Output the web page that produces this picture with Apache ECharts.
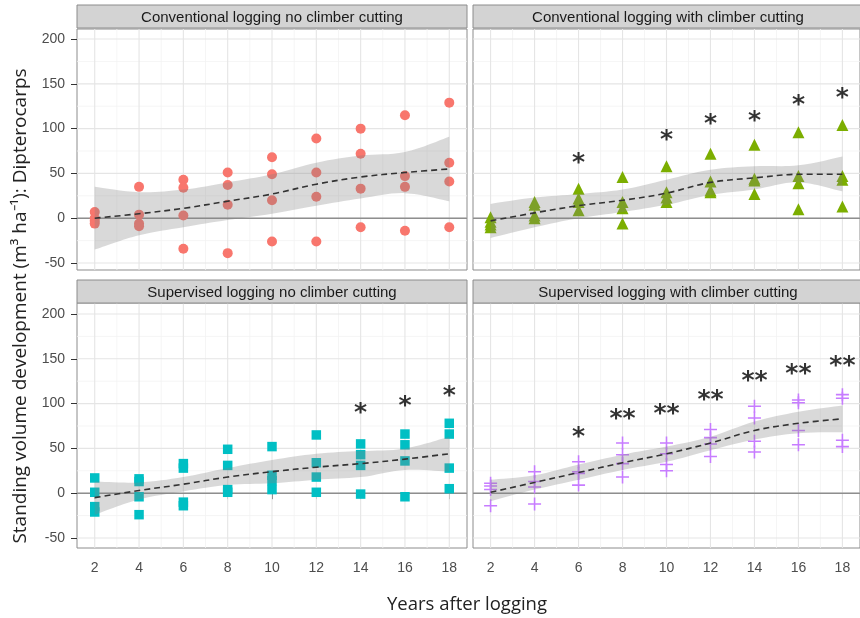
<!DOCTYPE html>
<html>
<head>
<meta charset="utf-8">
<script src="https://cdn.jsdelivr.net/npm/echarts@6/dist/echarts.min.js"></script>
<style>html,body{margin:0;padding:0;background:#fff}#c{width:860px;height:618px}</style>
</head>
<body>
<div id="c"></div>
<script>
// ---------------- data ----------------
const years = [2, 4, 6, 8, 10, 12, 14, 16, 18];
const xTicks = [2, 4, 6, 8, 10, 12, 14, 16, 18];
const xMinor = [3, 5, 7, 9, 11, 13, 15, 17];
const yTicks = [-50, 0, 50, 100, 150, 200];
const yMinor = [-25, 25, 75, 125, 175];

const panelTitles = [
  'Conventional logging no climber cutting',
  'Conventional logging with climber cutting',
  'Supervised logging no climber cutting',
  'Supervised logging with climber cutting'
];

// observations (4 plots per year)
const clNoCut = [[7,0,-3,-6],[35,4,-6,-9],[43,34,3,-34],[51,37,15,-39],[68,49,20,-26],[89,51,24,-26],[100,72,33,-10],[115,47,35,-14],[129,62,41,-10]];
const clCut   = [[1,-4,-7,-10],[18,15,3,0],[33,22,18,9],[46,18,11,-6],[58,29,23,18],[72,41,31,29],[82,44,42,27],[96,47,39,10],[104,47,43,13]];
const slNoCut = [[17,1,-15,-21],[16,13,-4,-24],[33,28,-10,-14],[49,31,4,1],[52,20,14,4],[65,34,18,1],[55,43,31,-1],[66,54,36,-4],[78,66,28,5]];
const slCut   = [[11,8,4,-14],[24,13,7,-12],[35,24,22,9],[56,43,33,18],[56,44,32,25],[71,62,55,41],[97,84,58,46],[104,101,70,54],[110,106,59,52]];

// smoother fits and confidence bands
const clNoCutFit = [0,5,11,19,27,38,46,51,55];
const clNoCutLo  = [-35,-19,-10,-2,5,14,22,28,19];
const clNoCutHi  = [35,29,32,40,49,62,70,74,91];
const clCutFit = [-3,6,14,20,28,40,45,49,49];
const clCutLo  = [-22,-10,0,7,15,26,32,40,30];
const clCutHi  = [16,23,27,32,43,54,58,59,69];
const slNoCutFit = [-5,3,10,18,24,29,33,38,44];
const slNoCutLo  = [-24,-7,2,9,11,15,18,26,24];
const slNoCutHi  = [13,12,18,28,37,44,47,50,63];
const slCutFit = [1,12,23,34,44,56,70,78,83];
const slCutLo  = [-9,4,15,26,35,48,60,67,68];
const slCutHi  = [15,20,32,43,52,63,80,91,98];

// significance asterisks
const clCutStarX = [6,10,12,14,16,18];
const clCutStarY = [68,94,111,115,133,140];
const clCutStarT = ['*','*','*','*','*','*'];
const slNoCutStarX = [14,16,18];
const slNoCutStarY = [96,104,115];
const slNoCutStarT = ['*','*','*'];
const slCutStarX = [6,8,10,12,14,16,18];
const slCutStarY = [69,89,95,110,131,139,148];
const slCutStarT = ['*','**','**','**','**','**','**'];

// ---------------- layout ----------------
const panels = [
  {left:77,  top:29,  w:390, h:241, ymin:-57.8, ymax:211.2, stripTop:5,   obs:clNoCut, fit:clNoCutFit, lo:clNoCutLo, hi:clNoCutHi, color:'#F8766D', symbol:'circle', size:10, stars:null, showY:true,  showX:false},
  {left:473, top:29,  w:390, h:241, ymin:-57.8, ymax:211.2, stripTop:5,   obs:clCut,   fit:clCutFit,   lo:clCutLo,   hi:clCutHi,   color:'#7CAE00', symbol:'triangle', size:12, stars:[clCutStarX,clCutStarY,clCutStarT], showY:false, showX:false},
  {left:77,  top:303, w:390, h:245, ymin:-61.2, ymax:212.3, stripTop:280, obs:slNoCut, fit:slNoCutFit, lo:slNoCutLo, hi:slNoCutHi, color:'#00BFC4', symbol:'rect', size:9.5, stars:[slNoCutStarX,slNoCutStarY,slNoCutStarT], showY:true,  showX:true},
  {left:473, top:303, w:390, h:245, ymin:-61.2, ymax:212.3, stripTop:280, obs:slCut,   fit:slCutFit,   lo:slCutLo,   hi:slCutHi,   color:'#C77CFF', symbol:'path://M4.4,0H5.6V4.4H10V5.6H5.6V10H4.4V5.6H0V4.4H4.4Z', size:13, stars:[slCutStarX,slCutStarY,slCutStarT], showY:false, showX:true}
];
const XMIN = 1.2, XMAX = 18.8;
const labelFont = 'Liberation Sans, Arial, sans-serif';

// Catmull-Rom spline through pixel points -> SVG path commands (without initial M)
function crSegs(pts) {
  let d = '';
  const n = pts.length;
  const t = 0.55;
  for (let i = 0; i < n - 1; i++) {
    const p0 = pts[Math.max(i - 1, 0)], p1 = pts[i], p2 = pts[i + 1], p3 = pts[Math.min(i + 2, n - 1)];
    const c1x = p1[0] + (p2[0] - p0[0]) / 6 * t * 2, c1y = p1[1] + (p2[1] - p0[1]) / 6 * t * 2;
    const c2x = p2[0] - (p3[0] - p1[0]) / 6 * t * 2, c2y = p2[1] - (p3[1] - p1[1]) / 6 * t * 2;
    d += ' C' + c1x.toFixed(2) + ' ' + c1y.toFixed(2) + ' ' + c2x.toFixed(2) + ' ' + c2y.toFixed(2) + ' ' + p2[0].toFixed(2) + ' ' + p2[1].toFixed(2);
  }
  return d;
}

const grids = [], xAxes = [], yAxes = [], series = [], graphics = [];

panels.forEach((p, i) => {
  grids.push({left:p.left, top:p.top, width:p.w, height:p.h, show:true, backgroundColor:'#fff', borderColor:'#8c8c8c', borderWidth:1, containLabel:false});
  xAxes.push({
    gridIndex:i, type:'value', min:XMIN, max:XMAX,
    axisLine:{show:false}, splitLine:{show:false},
    axisTick:{show:p.showX, customValues:xTicks, length:6, lineStyle:{color:'#333', width:1}},
    axisLabel:{show:p.showX, customValues:xTicks, margin:13, fontSize:14, color:'#4d4d4d', fontFamily:labelFont}
  });
  yAxes.push({
    gridIndex:i, type:'value', min:p.ymin, max:p.ymax,
    axisLine:{show:false}, splitLine:{show:false},
    axisTick:{show:p.showY, customValues:yTicks, length:6, lineStyle:{color:'#333', width:1}},
    axisLabel:{show:p.showY, customValues:yTicks, margin:12, fontSize:14, color:'#4d4d4d', fontFamily:labelFont}
  });

  // grid lines + zero reference line (drawn through the axes' scales)
  series.push({
    type:'custom', xAxisIndex:i, yAxisIndex:i, z:1, silent:true, clip:false,
    data:[[years[0], 0]],
    renderItem:(params, api) => {
      const kids = [];
      const hl = (v, c, w) => { const a = api.coord([XMIN, v]), b = api.coord([XMAX, v]);
        kids.push({type:'line', shape:{x1:a[0], y1:a[1], x2:b[0], y2:b[1]}, style:{stroke:c, lineWidth:w}}); };
      const vl = (v, c, w) => { const a = api.coord([v, p.ymin]), b = api.coord([v, p.ymax]);
        kids.push({type:'line', shape:{x1:a[0], y1:a[1], x2:b[0], y2:b[1]}, style:{stroke:c, lineWidth:w}}); };
      yMinor.forEach(v => hl(v, '#f3f3f3', 0.8));
      xMinor.forEach(v => vl(v, '#f3f3f3', 0.8));
      yTicks.forEach(v => hl(v, '#e5e5e5', 1.1));
      xTicks.forEach(v => vl(v, '#e5e5e5', 1.1));
      hl(0, '#8e8e8e', 1.5);
      return {type:'group', children:kids};
    }
  });

  // points
  const pts = [];
  years.forEach((yr, k) => p.obs[k].forEach(v => pts.push([yr, v])));
  series.push({
    type:'scatter', xAxisIndex:i, yAxisIndex:i, z:2, data:pts,
    symbol:p.symbol, symbolSize:p.size, itemStyle:{color:p.color, opacity:1}
  });

  // confidence band
  series.push({
    type:'custom', xAxisIndex:i, yAxisIndex:i, z:3, silent:true, clip:false,
    data:[[years[0], p.fit[0]]],
    renderItem:(params, api) => {
      const up = years.map((x, k) => api.coord([x, p.hi[k]]));
      const lo = years.map((x, k) => api.coord([x, p.lo[k]])).reverse();
      const d = 'M' + up[0][0] + ' ' + up[0][1] + crSegs(up) + ' L' + lo[0][0] + ' ' + lo[0][1] + crSegs(lo) + ' Z';
      return {type:'path', shape:{pathData:d}, style:{fill:'rgba(128,128,128,0.3)', stroke:null}};
    }
  });
  // fitted dashed line
  series.push({
    type:'line', xAxisIndex:i, yAxisIndex:i, z:4,
    data:years.map((yr,k)=>[yr, p.fit[k]]), smooth:0.35, symbol:'none',
    lineStyle:{color:'#333', width:1.6, type:[6,4]}, silent:true
  });
  // asterisks
  if (p.stars) {
    const [sx, sy, st] = p.stars;
    series.push({
      type:'scatter', xAxisIndex:i, yAxisIndex:i, z:5,
      data:sx.map((x,k)=>({value:[x, sy[k]], name:st[k]})),
      symbolSize:1, itemStyle:{color:'rgba(0,0,0,0)'},
      label:{show:true, position:'inside', formatter:(q)=>q.name, fontSize:25, fontWeight:'bold', fontFamily:'DejaVu Sans', color:'#000', offset:[0,6]}
    });
  }

  // strip
  graphics.push({type:'rect', shape:{x:p.left, y:p.stripTop, width:p.w, height:23}, style:{fill:'#d3d3d3', stroke:'#8c8c8c', lineWidth:1}, z:10});
  graphics.push({type:'text', x:p.left + p.w/2, y:p.stripTop + 12.5, style:{text:panelTitles[i], fill:'#1a1a1a', font:'15px Liberation Sans, Arial, sans-serif', textAlign:'center', textVerticalAlign:'middle'}, z:11});
});

graphics.push({type:'text', x:21, y:306, rotation:Math.PI/2, style:{text:'Standing volume development (m³ ha⁻¹): Dipterocarps', fill:'#222', font:'19px Open Sans, sans-serif', textAlign:'center', textVerticalAlign:'middle'}, z:11});
graphics.push({type:'text', x:467, y:605, style:{text:'Years after logging', fill:'#222', font:'18.5px Open Sans, sans-serif', textAlign:'center', textVerticalAlign:'middle'}, z:11});

const chart = echarts.init(document.getElementById('c'), null, {renderer:'canvas'});
chart.setOption({
  animation:false,
  backgroundColor:'#fff',
  grid:grids, xAxis:xAxes, yAxis:yAxes, series:series, graphic:graphics
});
</script>
</body>
</html>
